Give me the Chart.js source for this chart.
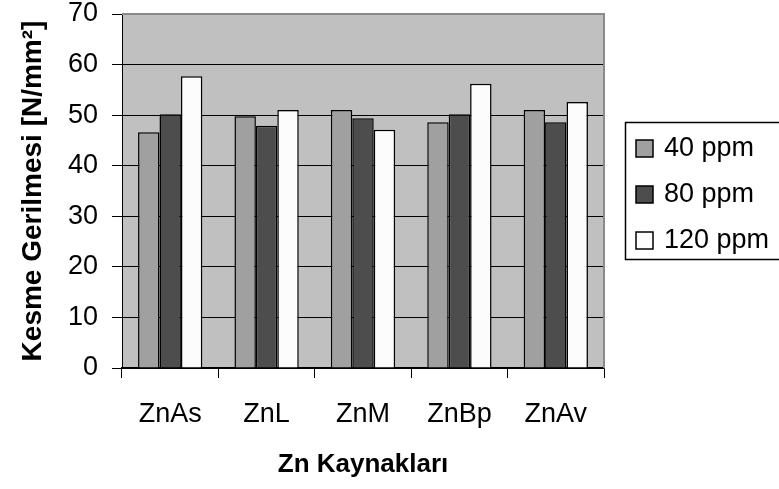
<!DOCTYPE html>
<html>
<head>
<meta charset="utf-8">
<script src="https://cdn.jsdelivr.net/npm/chart.js@4.4.0/dist/chart.umd.min.js"></script>
<style>
  html, body { margin: 0; padding: 0; background: #ffffff; }
  #wrap { width: 779px; height: 489px; }
</style>
</head>
<body>
<div id="wrap"><canvas id="shearChart" width="779" height="489"></canvas></div>
<script>
const categories = ['ZnAs', 'ZnL', 'ZnM', 'ZnBp', 'ZnAv'];
const ppm40 = [46.6, 49.8, 51.0, 48.6, 51.0];
const ppm80 = [50.2, 47.9, 49.4, 50.2, 48.6];
const ppm120 = [57.7, 51.0, 47.1, 56.2, 52.6];
const seriesLabels = ['40 ppm', '80 ppm', '120 ppm'];
const seriesColors = ['#a0a0a0', '#4d4d4d', '#fcfcfc'];

const FONT = 'Arial, "Liberation Sans", sans-serif';

// gray plot background + gray top/right frame
const plotArea = {
  id: 'plotArea',
  beforeDraw(chart) {
    const { ctx, chartArea: a } = chart;
    ctx.save();
    ctx.fillStyle = '#c0c0c0';
    ctx.fillRect(a.left, a.top, a.right - a.left, a.bottom - a.top);
    ctx.restore();
  },
  afterDatasetsDraw(chart) {
    const { ctx, chartArea: a } = chart;
    ctx.save();
    ctx.strokeStyle = '#8a8a8a';
    ctx.lineWidth = 2;
    ctx.beginPath();
    ctx.moveTo(a.left, a.top);
    ctx.lineTo(a.right, a.top);
    ctx.lineTo(a.right, a.bottom);
    ctx.stroke();
    ctx.restore();
  }
};

// boxed legend on the right, cut by the canvas edge like the original
const boxLegend = {
  id: 'boxLegend',
  afterDraw(chart) {
    const { ctx } = chart;
    ctx.save();
    ctx.strokeStyle = '#000000';
    ctx.lineWidth = 1.5;
    ctx.strokeRect(625.5, 122.5, 170, 137);
    ctx.font = '27px ' + FONT;
    ctx.textBaseline = 'middle';
    ctx.textAlign = 'left';
    chart.data.datasets.forEach((ds, i) => {
      const y = 148 + i * 46;
      ctx.fillStyle = ds.backgroundColor;
      ctx.fillRect(636, y - 8, 17, 17);
      ctx.strokeStyle = '#000000';
      ctx.lineWidth = 1.5;
      ctx.strokeRect(636, y - 8, 17, 17);
      ctx.fillStyle = '#000000';
      ctx.fillText(ds.label, 664, y + 1);
    });
    ctx.restore();
  }
};

const ctx = document.getElementById('shearChart').getContext('2d');

new Chart(ctx, {
  type: 'bar',
  data: {
    labels: categories,
    datasets: [ppm40, ppm80, ppm120].map((values, i) => ({
      label: seriesLabels[i],
      data: values,
      backgroundColor: seriesColors[i],
      borderColor: '#000000',
      borderWidth: 1.5,
      barPercentage: 1,
      categoryPercentage: 0.667
    }))
  },
  options: {
    responsive: false,
    animation: false,
    devicePixelRatio: 1,
    layout: {
      padding: { top: 14, right: 175, left: 0, bottom: 0 }
    },
    scales: {
      x: {
        afterFit: (scale) => { scale.height = 121; },
        grid: {
          offset: true,
          drawOnChartArea: false,
          drawTicks: true,
          tickLength: 10,
          color: '#000000',
          lineWidth: 1
        },
        border: { display: true, color: '#000000', width: 1.5 },
        ticks: {
          color: '#000000',
          padding: 20,
          font: { family: FONT, size: 27 }
        },
        title: {
          display: true,
          text: 'Zn Kaynakları',
          color: '#000000',
          font: { family: FONT, size: 26, weight: 'bold' },
          padding: { top: 0, bottom: 9 }
        }
      },
      y: {
        min: 0,
        max: 70,
        afterFit: (scale) => {
          scale.width = 122;
          scale.paddingTop = 0;
          scale.paddingBottom = 0;
        },
        grid: {
          color: '#000000',
          lineWidth: 1,
          drawTicks: true,
          tickLength: 10
        },
        border: { display: true, color: '#000000', width: 1 },
        ticks: {
          stepSize: 10,
          color: '#000000',
          padding: 14,
          font: { family: FONT, size: 27 }
        },
        title: {
          display: true,
          text: 'Kesme Gerilmesi [N/mm²]',
          color: '#000000',
          font: { family: FONT, size: 28, weight: 'bold' },
          padding: { top: 16, bottom: 0 }
        }
      }
    },
    plugins: {
      legend: { display: false },
      tooltip: { enabled: false }
    }
  },
  plugins: [plotArea, boxLegend]
});
</script>
</body>
</html>
